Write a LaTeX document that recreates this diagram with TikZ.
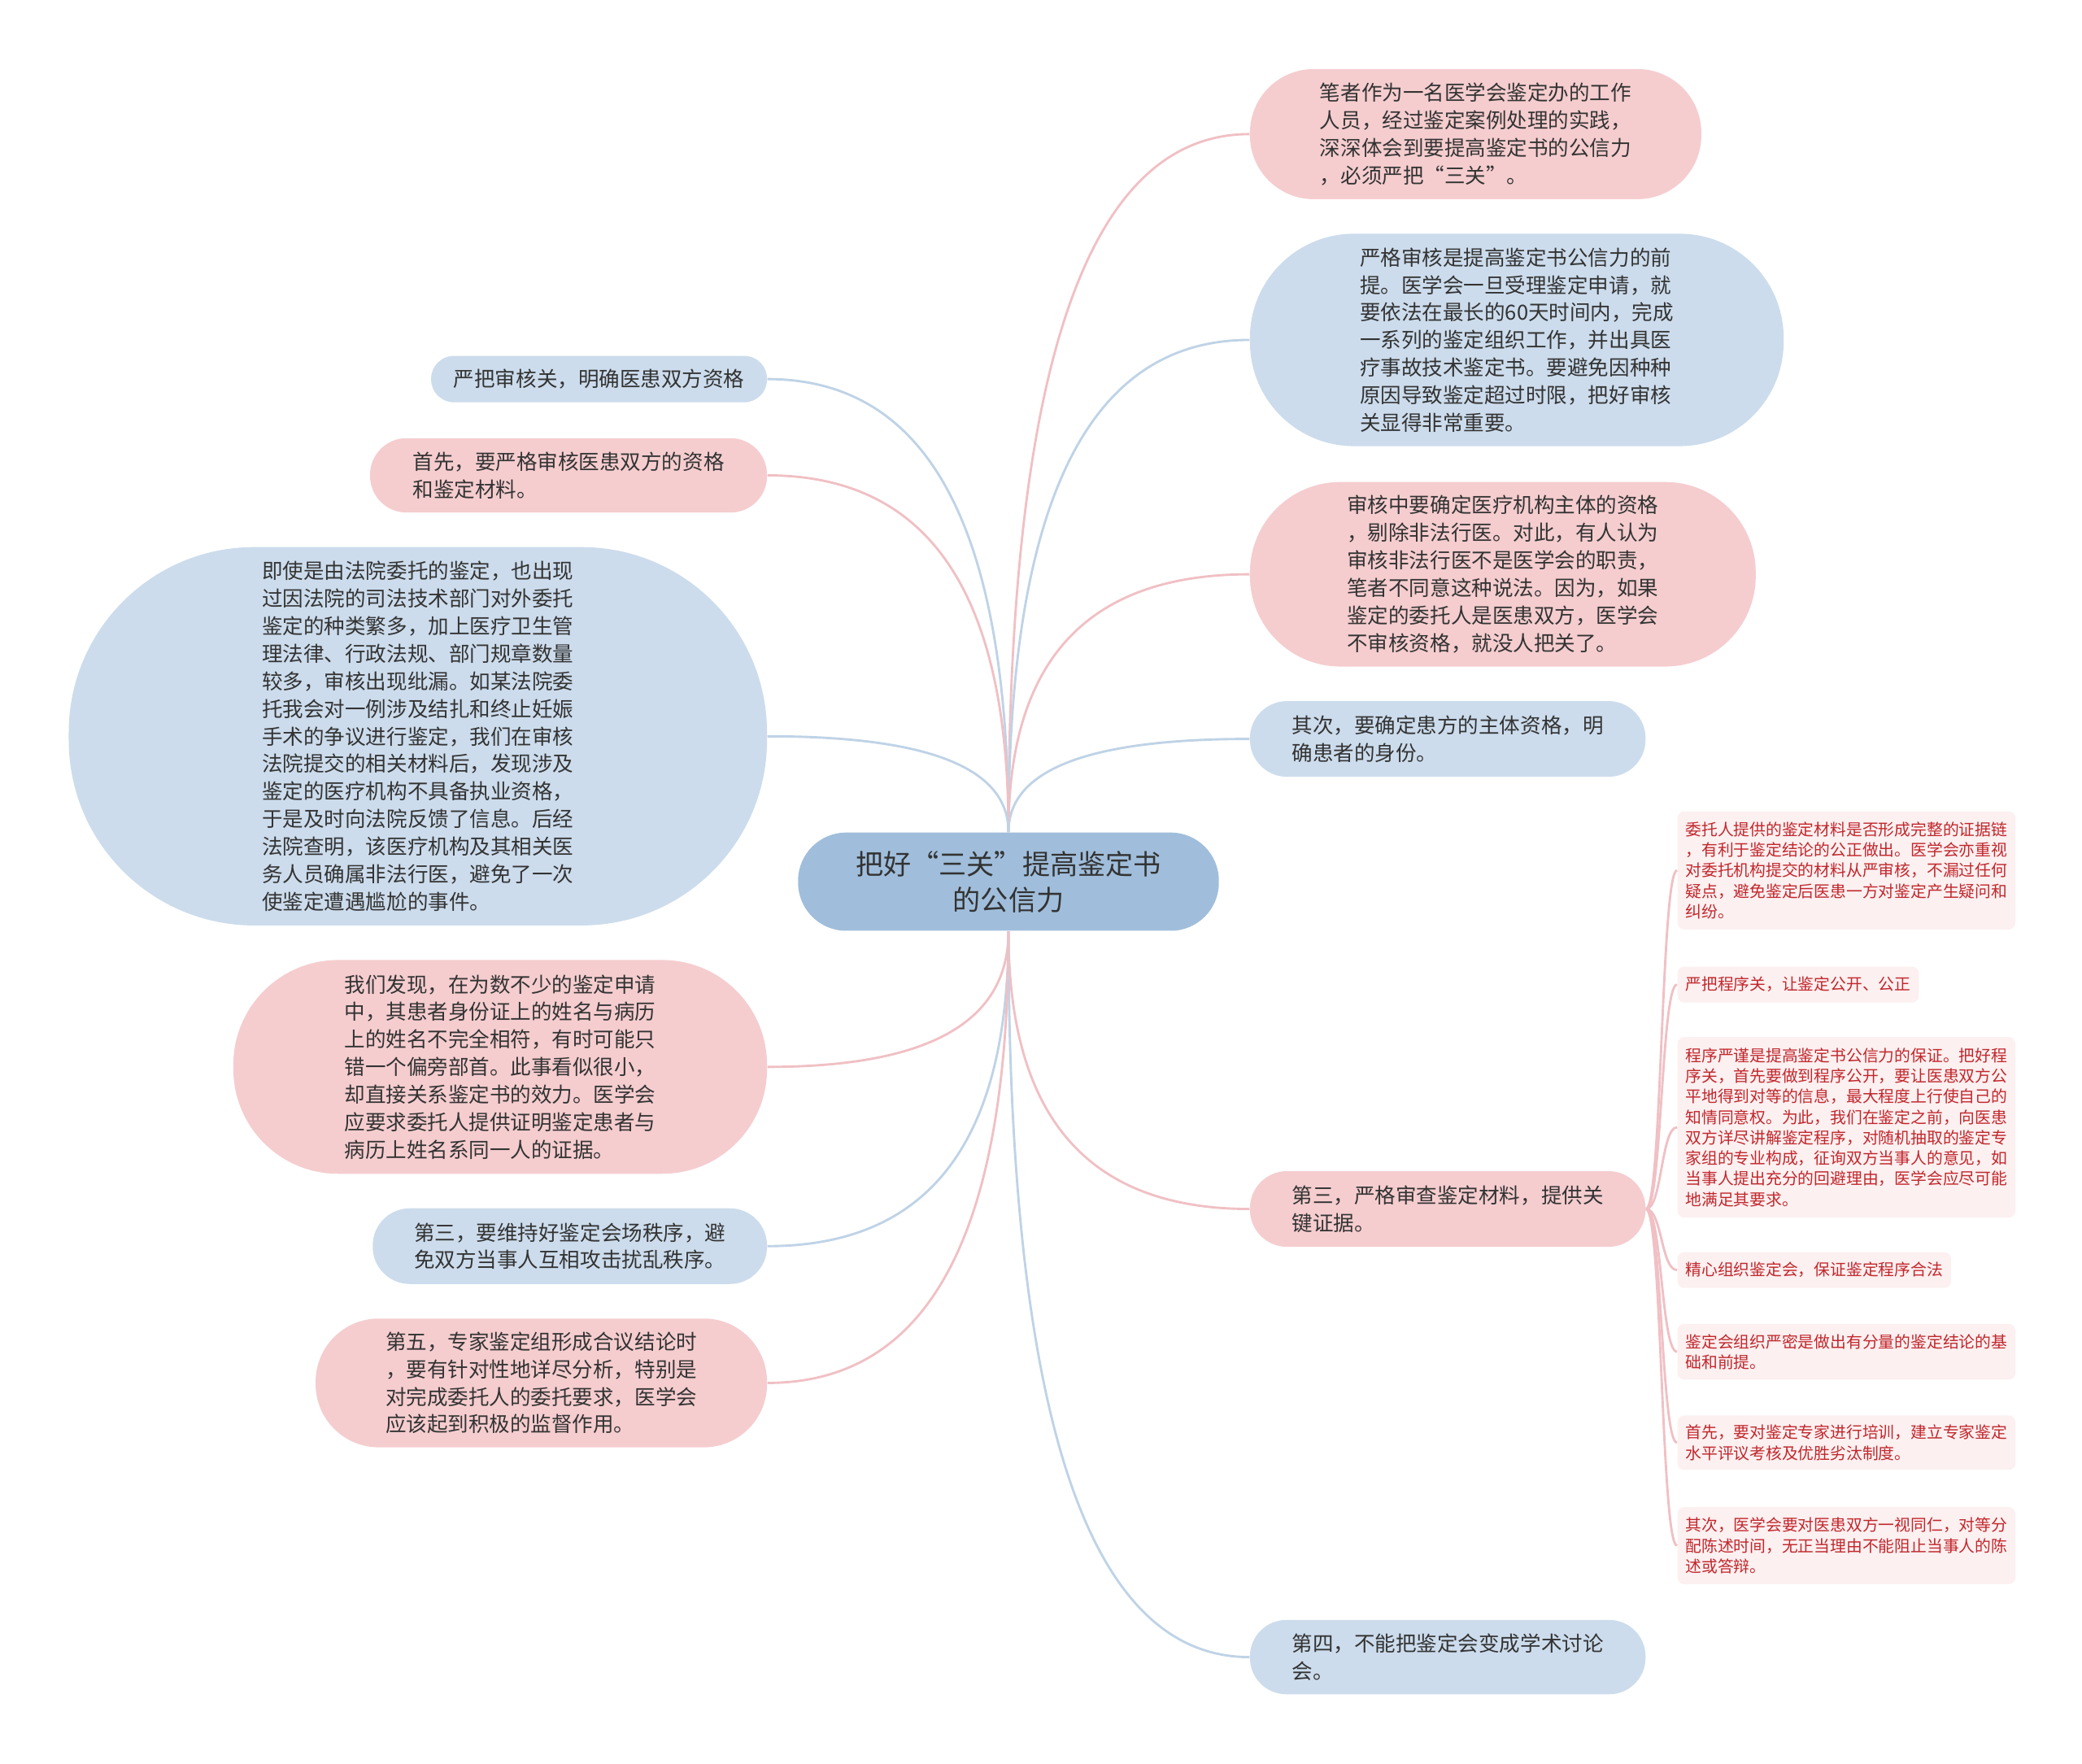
\documentclass[tikz,border=0pt]{standalone}
\usepackage{fontspec}
\setmainfont{Noto Sans CJK SC}
\usepackage{tikz}
\usetikzlibrary{calc}
\usepackage{xcolor}

\definecolor{rosa}{HTML}{F5CDCF}
\definecolor{hellblau}{HTML}{CCDCEC}
\definecolor{wurzelblau}{HTML}{A0BEDB}
\definecolor{rosakante}{HTML}{F0C0C4}
\definecolor{blaukante}{HTML}{BFD3E6}
\definecolor{blattrosa}{HTML}{FCF0F0}
\definecolor{blattrot}{HTML}{C1272D}
\definecolor{textgrau}{HTML}{333333}

\begin{document}
\begin{tikzpicture}[x=0.02cm, y=-0.02cm]

         %%%%%%%%%%%%%%%%%%%%%%%%%%%%%%%%%%%%%%%%%%%%%%%%%%%%%%%%%%%%%%%%%%%%%%
         % Parameter
         %%%%%%%%%%%%%%%%%%%%%%%%%%%%%%%%%%%%%%%%%%%%%%%%%%%%%%%%%%%%%%%%%%%%%%
         \def\xlinks{578}    % rechte Kante der linken Knoten
         \def\xrechts{941}   % linke Kante der rechten Knoten
         \def\xblatt{1263}   % linke Kante der Blaetter
         \def\henkel{12}     % Henkel der Blatt-Kurven

         \useasboundingbox (0,0) rectangle (1568,1328);

         % Stile fuer Knoten und Aeste
         \tikzset{
            pill/.style 2 args={
            minimum width=#1, minimum height=#2,
            rounded corners=0.49*#2, inner sep=0pt,
            align=left, text=textgrau,
            font=\fontsize{8.9}{11.8}\selectfont
            },
            rosabox/.style={fill=rosa},
            blaubox/.style={fill=hellblau},
            blatt/.style={
            fill=blattrosa, rounded corners=0.1cm, anchor=west,
            inner xsep=0.12cm, inner ysep=0pt, align=left,
            text=blattrot, font=\fontsize{6.9}{8.8}\selectfont
            },
            ast/.style={
            line width=1pt,
            to path={.. controls ($(\tikztostart)!0.67!(\tikztostart |- \tikztotarget)$)
               and ($(\tikztotarget)!0.67!(\tikztostart |- \tikztotarget)$) .. (\tikztotarget)}
            },
            astrosa/.style={ast, draw=rosakante},
            astblau/.style={ast, draw=blaukante},
            zweig/.style={
            line width=1pt, draw=rosakante,
            to path={.. controls +(\henkel,0) and +(-\henkel,0) .. (\tikztotarget)}
            }
         }

         %%%%%%%%%%%%%%%%%%%%%%%%%%%%%%%%%%%%%%%%%%%%%%%%%%%%%%%%%%%%%%%%%%%%%%
         % Wurzel
         %%%%%%%%%%%%%%%%%%%%%%%%%%%%%%%%%%%%%%%%%%%%%%%%%%%%%%%%%%%%%%%%%%%%%%
         \node[pill={6.34cm}{1.48cm}, fill=wurzelblau, align=center,
            font=\fontsize{11.9}{15.4}\selectfont] (wurzel) at (759.5,664)
            {把好“三关”提高鉴定书\\的公信力};

         %%%%%%%%%%%%%%%%%%%%%%%%%%%%%%%%%%%%%%%%%%%%%%%%%%%%%%%%%%%%%%%%%%%%%%
         % Rechte Seite
         %%%%%%%%%%%%%%%%%%%%%%%%%%%%%%%%%%%%%%%%%%%%%%%%%%%%%%%%%%%%%%%%%%%%%%
         \node[pill={6.80cm}{1.96cm}, rosabox, anchor=west] (r1) at (\xrechts,101)
            {笔者作为一名医学会鉴定办的工作\\人员，经过鉴定案例处理的实践，\\深深体会到要提高鉴定书的公信力\\，必须严把“三关”。};
         \node[pill={8.04cm}{3.20cm}, blaubox, anchor=west] (r2) at (\xrechts,256)
            {严格审核是提高鉴定书公信力的前\\提。医学会一旦受理鉴定申请，就\\要依法在最长的60天时间内，完成\\一系列的鉴定组织工作，并出具医\\疗事故技术鉴定书。要避免因种种\\原因导致鉴定超过时限，把好审核\\关显得非常重要。};
         \node[pill={7.62cm}{2.78cm}, rosabox, anchor=west] (r3) at (\xrechts,432.5)
            {审核中要确定医疗机构主体的资格\\，剔除非法行医。对此，有人认为\\审核非法行医不是医学会的职责，\\笔者不同意这种说法。因为，如果\\鉴定的委托人是医患双方，医学会\\不审核资格，就没人把关了。};
         \node[pill={5.96cm}{1.14cm}, blaubox, anchor=west] (r4) at (\xrechts,556.5)
            {其次，要确定患方的主体资格，明\\确患者的身份。};
         \node[pill={5.96cm}{1.14cm}, rosabox, anchor=west] (r5) at (\xrechts,910.5)
            {第三，严格审查鉴定材料，提供关\\键证据。};
         \node[pill={5.96cm}{1.12cm}, blaubox, anchor=west] (r6) at (\xrechts,1248)
            {第四，不能把鉴定会变成学术讨论\\会。};

         %%%%%%%%%%%%%%%%%%%%%%%%%%%%%%%%%%%%%%%%%%%%%%%%%%%%%%%%%%%%%%%%%%%%%%
         % Linke Seite
         %%%%%%%%%%%%%%%%%%%%%%%%%%%%%%%%%%%%%%%%%%%%%%%%%%%%%%%%%%%%%%%%%%%%%%
         \node[pill={5.06cm}{0.70cm}, blaubox, anchor=east] (l1) at (\xlinks,285.5)
            {严把审核关，明确医患双方资格};
         \node[pill={5.98cm}{1.12cm}, rosabox, anchor=east] (l2) at (\xlinks,358)
            {首先，要严格审核医患双方的资格\\和鉴定材料。};
         \node[pill={10.52cm}{5.70cm}, blaubox, anchor=east] (l3) at (\xlinks,554.5)
            {即使是由法院委托的鉴定，也出现\\过因法院的司法技术部门对外委托\\鉴定的种类繁多，加上医疗卫生管\\理法律、行政法规、部门规章数量\\较多，审核出现纰漏。如某法院委\\托我会对一例涉及结扎和终止妊娠\\手术的争议进行鉴定，我们在审核\\法院提交的相关材料后，发现涉及\\鉴定的医疗机构不具备执业资格，\\于是及时向法院反馈了信息。后经\\法院查明，该医疗机构及其相关医\\务人员确属非法行医，避免了一次\\使鉴定遭遇尴尬的事件。};
         \node[pill={8.04cm}{3.22cm}, rosabox, anchor=east] (l4) at (\xlinks,803.5)
            {我们发现，在为数不少的鉴定申请\\中，其患者身份证上的姓名与病历\\上的姓名不完全相符，有时可能只\\错一个偏旁部首。此事看似很小，\\却直接关系鉴定书的效力。医学会\\应要求委托人提供证明鉴定患者与\\病历上姓名系同一人的证据。};
         \node[pill={5.94cm}{1.14cm}, blaubox, anchor=east] (l5) at (\xlinks,938.5)
            {第三，要维持好鉴定会场秩序，避\\免双方当事人互相攻击扰乱秩序。};
         \node[pill={6.80cm}{1.94cm}, rosabox, anchor=east] (l6) at (\xlinks,1041.5)
            {第五，专家鉴定组形成合议结论时\\，要有针对性地详尽分析，特别是\\对完成委托人的委托要求，医学会\\应该起到积极的监督作用。};

         %%%%%%%%%%%%%%%%%%%%%%%%%%%%%%%%%%%%%%%%%%%%%%%%%%%%%%%%%%%%%%%%%%%%%%
         % Blaetter an r5
         %%%%%%%%%%%%%%%%%%%%%%%%%%%%%%%%%%%%%%%%%%%%%%%%%%%%%%%%%%%%%%%%%%%%%%
         \node[blatt, minimum height=1.78cm] (s1) at (\xblatt,655.5)
            {委托人提供的鉴定材料是否形成完整的证据链\\，有利于鉴定结论的公正做出。医学会亦重视\\对委托机构提交的材料从严审核，不漏过任何\\疑点，避免鉴定后医患一方对鉴定产生疑问和\\纠纷。};
         \node[blatt, minimum height=0.54cm] (s2) at (\xblatt,741.5)
            {严把程序关，让鉴定公开、公正};
         \node[blatt, minimum height=2.72cm] (s3) at (\xblatt,849)
            {程序严谨是提高鉴定书公信力的保证。把好程\\序关，首先要做到程序公开，要让医患双方公\\平地得到对等的信息，最大程度上行使自己的\\知情同意权。为此，我们在鉴定之前，向医患\\双方详尽讲解鉴定程序，对随机抽取的鉴定专\\家组的专业构成，征询双方当事人的意见，如\\当事人提出充分的回避理由，医学会应尽可能\\地满足其要求。};
         \node[blatt, minimum height=0.54cm] (s4) at (\xblatt,956.5)
            {精心组织鉴定会，保证鉴定程序合法};
         \node[blatt, minimum height=0.84cm, minimum width=5.06cm] (s5) at (\xblatt,1018)
            {鉴定会组织严密是做出有分量的鉴定结论的基\\础和前提。};
         \node[blatt, minimum height=0.82cm, minimum width=5.06cm] (s6) at (\xblatt,1086.5)
            {首先，要对鉴定专家进行培训，建立专家鉴定\\水平评议考核及优胜劣汰制度。};
         \node[blatt, minimum height=1.16cm, minimum width=5.06cm] (s7) at (\xblatt,1164)
            {其次，医学会要对医患双方一视同仁，对等分\\配陈述时间，无正当理由不能阻止当事人的陈\\述或答辩。};

         %%%%%%%%%%%%%%%%%%%%%%%%%%%%%%%%%%%%%%%%%%%%%%%%%%%%%%%%%%%%%%%%%%%%%%
         % Aeste von der Wurzel
         %%%%%%%%%%%%%%%%%%%%%%%%%%%%%%%%%%%%%%%%%%%%%%%%%%%%%%%%%%%%%%%%%%%%%%
         \draw[astrosa] (wurzel.north) to (r1.west);
         \draw[astblau] (wurzel.north) to (r2.west);
         \draw[astrosa] (wurzel.north) to (r3.west);
         \draw[astblau] (wurzel.north) to (r4.west);
         \draw[astrosa] (wurzel.south) to (r5.west);
         \draw[astblau] (wurzel.south) to (r6.west);

         \draw[astblau] (wurzel.north) to (l1.east);
         \draw[astrosa] (wurzel.north) to (l2.east);
         \draw[astblau] (wurzel.north) to (l3.east);
         \draw[astrosa] (wurzel.south) to (l4.east);
         \draw[astblau] (wurzel.south) to (l5.east);
         \draw[astrosa] (wurzel.south) to (l6.east);

         % Zweige zu den Blaettern
         \foreach \b in {s1,s2,s3,s4,s5,s6,s7}
            \draw[zweig] (r5.east) to (\b.west);

\end{tikzpicture}
\end{document}
